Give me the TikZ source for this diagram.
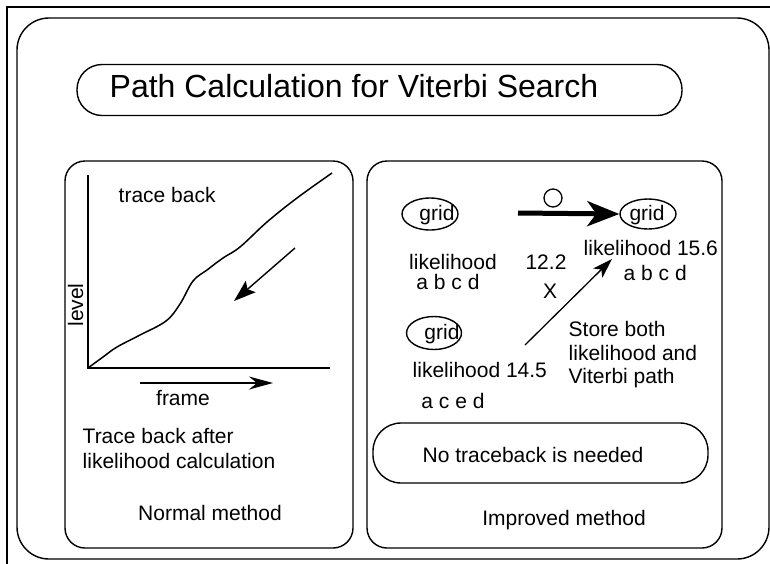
\documentclass[tikz,border=0pt]{standalone}
\usepackage{fontspec}
\setmainfont{Liberation Sans}
\usetikzlibrary{arrows.meta,shapes.geometric}
\begin{document}
\begin{tikzpicture}[x=1pt,y=-1pt,
  line width=1.4pt,
  txt/.style={inner sep=0pt,font=\fontsize{21pt}{25pt}\selectfont},
  titletxt/.style={inner sep=0pt,font=\fontsize{32pt}{36pt}\selectfont},
  gridshape/.style={draw,ellipse,inner sep=0pt},
  panel/.style={draw,rounded corners=20pt},
  thinarrow/.style={line width=1.3pt,-{Stealth[length=20pt,width=13pt,inset=5pt]}},
]
\useasboundingbox (0,0) rectangle (770,563);
\clip (0,0) rectangle (770,563);

% outer frame and main rounded border
\draw (7,7) rectangle (790,590);
\draw[rounded corners=32pt] (17,18) rectangle (769,559);

% title
\node[draw,rounded corners=25pt,minimum width=605pt,minimum height=51pt,inner sep=0pt] (titlebox) at (379.5,90) {};
\node[titletxt,anchor=base west] (titletext) at (109,97) {Path Calculation for Viterbi Search};

% ---- left panel: normal method ----
\draw[panel] (65,161) rectangle (353,548);
\coordinate (yaxtop) at (88,175);
\coordinate (origin) at (88,368);
\coordinate (xaxend) at (330,368);
\draw[line width=1.5pt] (yaxtop) -- (origin) -- (xaxend);
\draw[line width=1.5pt] plot[smooth,tension=0.6] coordinates {(88,368) (103,357) (117,347) (140,335) (166,321) (180,304) (193,281) (207,270) (223,258) (240,247) (267,222) (297,198) (332,173)};
\node[txt,anchor=base west] (traceback) at (118,202) {trace back};
\coordinate (tbstart) at (295,248);
\coordinate (tbend) at (234,301);
\draw[line width=1.4pt,-{Stealth[length=22pt,width=15pt,inset=4pt]}] (tbstart) -- (tbend);
\node[txt,rotate=90,anchor=base] (level) at (83,305) {level};
\coordinate (frstart) at (140,383);
\coordinate (frend) at (273,383);
\draw[line width=1.4pt,-{Stealth[length=24pt,width=13pt,inset=8pt]}] (frstart) -- (frend);
\node[txt,anchor=base] (frame) at (183,405) {frame};
\node[txt,anchor=base west] (tb1) at (82,443) {Trace back after};
\node[txt,anchor=base west] (tb2) at (82,468) {likelihood calculation};
\node[txt,anchor=base] (normal) at (210,520) {Normal method};

% ---- right panel: improved method ----
\draw[panel] (367,161) rectangle (722,548);
\node[gridshape,minimum width=56pt,minimum height=32pt] (g1) at (430,214) {};
\node[txt,anchor=base] (g1t) at (437,220) {grid};
\node[gridshape,minimum width=56pt,minimum height=30pt] (g2) at (648,214) {};
\node[txt,anchor=base] (g2t) at (647,220) {grid};
\node[gridshape,minimum width=55pt,minimum height=33pt] (g3) at (434,333) {};
\node[txt,anchor=base] (g3t) at (442,339) {grid};

\coordinate (thickstart) at (518,213);
\draw[line width=5pt,-{Stealth[length=32pt,width=25pt,inset=9pt]}] (thickstart) -- (g2.west);
\node[draw,circle,minimum size=18pt,inner sep=0pt,line width=1.3pt] (ok) at (553,198) {};

\node[txt,anchor=base,text depth=0pt] (lk1) at (453,269) {likelihood};
\node[txt,anchor=base] (v122) at (546,269) {12.2};
\node[txt,anchor=base,text height=14pt] (seq1) at (448,289) {a b c d};
\node[txt,anchor=base] (cross) at (550,298) {X};
\node[txt,anchor=base west] (lk2) at (583,255) {likelihood 15.6};
\node[txt,anchor=base west] (seq2) at (623,280) {a b c d};
\node[txt,anchor=base west] (lk3) at (412,377) {likelihood 14.5};
\node[txt,anchor=base] (seq3) at (453,408) {a c e d};

\coordinate (diagstart) at (525,345);
\coordinate (diagend) at (612,259);
\draw[thinarrow] (diagstart) -- (diagend);

\node[txt,anchor=base west] (store1) at (568,336) {Store both};
\node[txt,anchor=base west] (store2) at (568,360) {likelihood and};
\node[txt,anchor=base west] (store3) at (568,383) {Viterbi path};

\node[draw,rounded corners=28pt,minimum width=335pt,minimum height=60pt,inner sep=0pt] (notrace) at (540.5,453) {};
\node[txt,anchor=base] (notracetxt) at (533,462) {No traceback is needed};
\node[txt,anchor=base] (improved) at (564,525) {Improved method};
\end{tikzpicture}
\end{document}
